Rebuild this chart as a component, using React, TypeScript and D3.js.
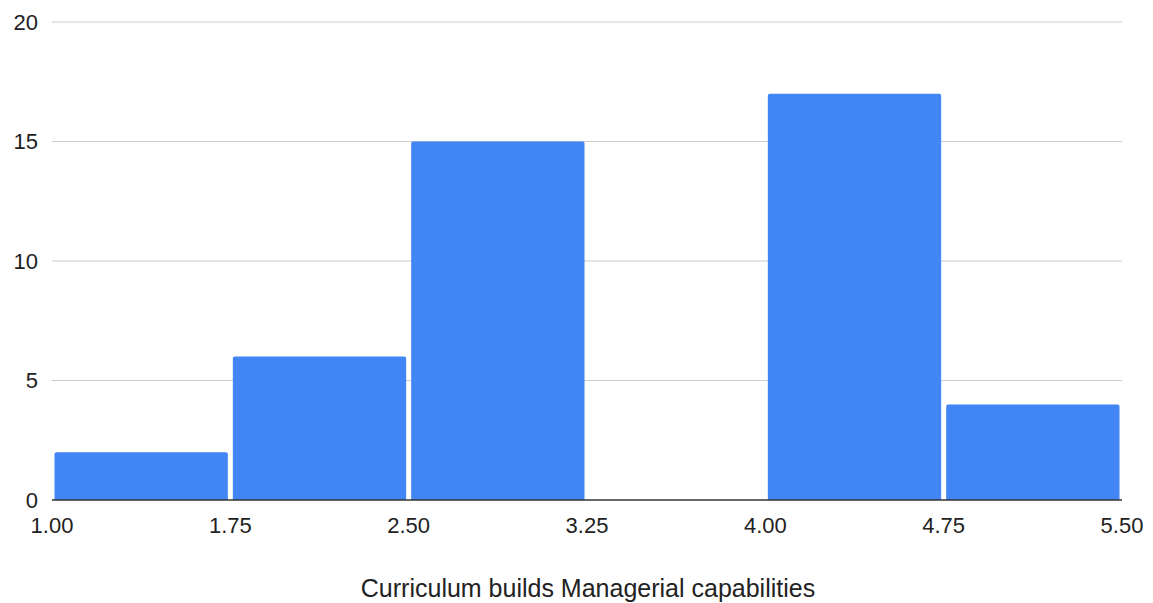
import * as d3 from 'd3';

const binEdges = [1.0, 1.75, 2.5, 3.25, 4.0, 4.75, 5.5];
const counts = [2, 6, 15, 0, 17, 4];
const yTicks = [0, 5, 10, 15, 20];
const xTitle = 'Curriculum builds Managerial capabilities';

const WIDTH = 1153;
const HEIGHT = 603;
const margin = { top: 22, right: 31, bottom: 103, left: 52 };
const FONT = 'Arial, "Liberation Sans", sans-serif';

export default function App() {
  const x = d3
    .scaleLinear()
    .domain([binEdges[0], binEdges[binEdges.length - 1]])
    .range([margin.left, WIDTH - margin.right]);
  const y = d3
    .scaleLinear()
    .domain([0, 20])
    .range([HEIGHT - margin.bottom, margin.top]);

  const bins = counts.map((c, i) => ({ x0: binEdges[i], x1: binEdges[i + 1], count: c }));
  const inset = 2.5;

  return (
    <svg
      width={WIDTH}
      height={HEIGHT}
      style={{ position: 'absolute', left: 0, top: 0, background: '#fff' }}
      fontFamily={FONT}
    >
      {yTicks.map((t) => (
        <g key={t}>
          {t !== 0 && (
            <line
              x1={margin.left}
              x2={WIDTH - margin.right}
              y1={y(t)}
              y2={y(t)}
              stroke="#cccccc"
              strokeWidth={1}
            />
          )}
          <text
            x={38}
            y={y(t)}
            textAnchor="end"
            dominantBaseline="central"
            fontSize={22}
            fill="#222"
          >
            {t}
          </text>
        </g>
      ))}

      {bins
        .filter((b) => b.count > 0)
        .map((b, i) => {
          const x0 = x(b.x0) + inset;
          const x1 = x(b.x1) - inset;
          const top = y(b.count);
          const bottom = y(0);
          const r = Math.min(2, bottom - top);
          return (
            <path
              key={i}
              fill="#4285f4"
              d={`M${x0},${bottom}V${top + r}Q${x0},${top} ${x0 + r},${top}H${x1 - r}Q${x1},${top} ${x1},${top + r}V${bottom}Z`}
            />
          );
        })}

      <line
        x1={margin.left}
        x2={WIDTH - margin.right}
        y1={y(0)}
        y2={y(0)}
        stroke="#333"
        strokeWidth={1.5}
      />

      {binEdges.map((e) => (
        <text
          key={e}
          x={x(e)}
          y={533}
          textAnchor="middle"
          fontSize={22}
          fill="#222"
        >
          {e.toFixed(2)}
        </text>
      ))}

      <text
        x={588}
        y={597}
        textAnchor="middle"
        fontSize={25}
        fill="#222"
      >
        {xTitle}
      </text>
    </svg>
  );
}
